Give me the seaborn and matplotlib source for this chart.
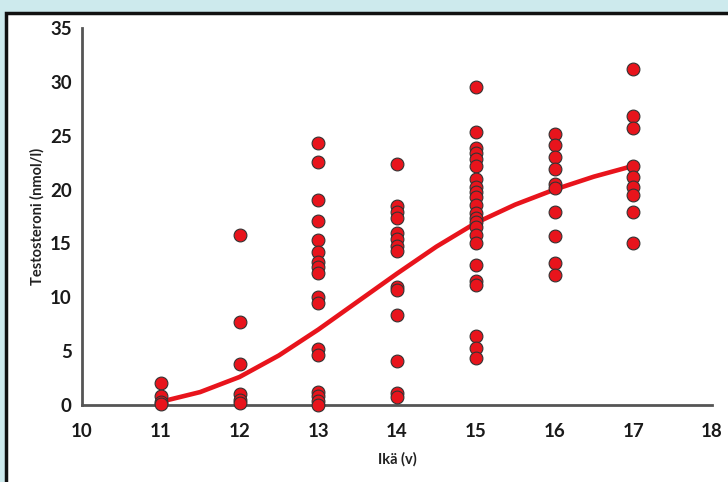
import matplotlib
matplotlib.use("Agg")
import matplotlib.pyplot as plt
import matplotlib.patches as patches
import pandas as pd
import seaborn as sns

# havaintopisteet (ikä, testosteroni nmol/l)
age_11 = [2.0, 0.8, 0.3, 0.1]
age_12 = [15.8, 7.7, 3.8, 1.0, 0.5, 0.2]
age_13 = [24.3, 22.6, 19.0, 17.1, 15.3, 14.2, 13.3, 12.8, 12.3, 10.0, 9.5,
          5.2, 4.6, 1.2, 0.8, 0.4, 0.0]
age_14 = [22.4, 18.5, 17.9, 17.4, 16.0, 15.4, 14.8, 14.3, 11.0, 10.7, 8.4,
          4.1, 1.1, 0.7]
age_15 = [29.5, 25.3, 23.9, 23.4, 22.8, 22.2, 21.0, 20.2, 19.8, 19.3, 18.6,
          17.8, 17.4, 17.0, 16.5, 15.8, 15.0, 13.0, 11.5, 11.1, 6.4, 5.3, 4.4]
age_16 = [25.2, 24.1, 23.0, 21.9, 20.5, 20.1, 17.9, 15.7, 13.2, 12.1]
age_17 = [31.2, 26.8, 25.7, 22.2, 21.2, 20.2, 19.5, 17.9, 15.0]

# sovitettu käyrä
curve_age = [11, 11.5, 12, 12.5, 13, 13.5, 14, 14.5, 15, 15.5, 16, 16.5, 17]
curve_val = [0.3, 1.2, 2.6, 4.6, 7.0, 9.6, 12.2, 14.7, 16.9, 18.6, 20.0, 21.2, 22.2]

groups = {11: age_11, 12: age_12, 13: age_13, 14: age_14,
          15: age_15, 16: age_16, 17: age_17}
df = pd.DataFrame([(a, v) for a, vals in groups.items() for v in vals],
                  columns=["age", "testo"])
curve = pd.DataFrame({"age": curve_age, "testo": curve_val})

sns.set_style("white")
plt.rcParams["font.family"] = ["Lato", "DejaVu Sans"]
plt.rcParams["font.weight"] = "bold"

red = "#e8141c"
fig = plt.figure(figsize=(7.28, 4.82), dpi=100, facecolor="#cdeaed")
# valkoinen paneeli mustalla reunalla
fig.patches.append(patches.Rectangle((6 / 728, -0.05), 1.0, 0.05 + (482 - 13) / 482,
                                     transform=fig.transFigure, facecolor="white",
                                     edgecolor="#111111", linewidth=2.5, zorder=-5))
ax = fig.add_axes([82 / 728, 1 - 405 / 482, (712 - 82) / 728, (405 - 28) / 482])
ax.set_facecolor("none")

sns.lineplot(data=curve, x="age", y="testo", color=red, linewidth=3.3, ax=ax, zorder=2)
sns.scatterplot(data=df, x="age", y="testo", color=red, edgecolor="#333333",
                linewidth=0.8, s=85, ax=ax, zorder=3, clip_on=False)

ax.set_xlim(10, 18)
ax.set_ylim(0, 35)
ax.set_xticks(range(10, 19))
ax.set_yticks(range(0, 36, 5))
ax.set_xlabel("Ikä (v)", fontsize=10.5, fontweight="bold", color="#222222", labelpad=9)
ax.set_ylabel("Testosteroni (nmol/l)", fontsize=10.5, fontweight="bold", color="#222222",
              labelpad=4)
ax.tick_params(axis="both", labelsize=13.5, colors="#555555", labelcolor="#1a1a1a",
               length=4, width=1.2, direction="out")
ax.tick_params(axis="x", pad=9)
for side in ["top", "right"]:
    ax.spines[side].set_visible(False)
for side in ["left", "bottom"]:
    ax.spines[side].set_color("#555555")
    ax.spines[side].set_linewidth(2)

fig.savefig("out.png", dpi=100, facecolor=fig.get_facecolor())
